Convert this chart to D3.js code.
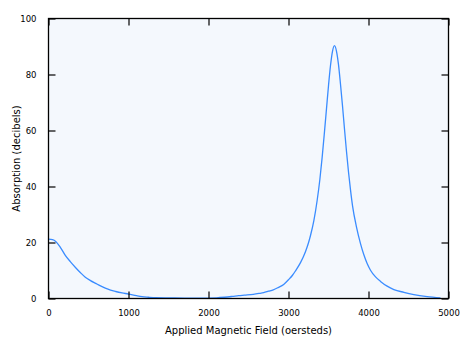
<!DOCTYPE html>
<html>
<head>
<meta charset="utf-8">
<script src="https://cdn.jsdelivr.net/npm/d3@7"></script>
<style>
  html, body { margin: 0; padding: 0; background: #ffffff; }
  svg { display: block; }
  text { font-family: "DejaVu Sans", Verdana, sans-serif; fill: #000; }
</style>
</head>
<body>
<svg id="chart" width="476" height="347"></svg>
<script>
// Applied field (oersteds) and measured absorption (decibels)
const fieldOe = [
  0, 50, 90, 150, 210, 275, 340, 400, 460, 525, 590, 650, 710, 775, 840, 920,
  1000, 1100, 1170, 1250, 1340, 1500, 1700, 1900, 2100, 2200, 2300, 2375, 2450,
  2560, 2630, 2690, 2750, 2810, 2870, 2940, 3000, 3050, 3088, 3150, 3213, 3250,
  3275, 3317, 3358, 3392, 3420, 3450, 3475, 3500, 3525, 3550, 3575, 3600, 3625,
  3650, 3675, 3700, 3725, 3750, 3775, 3800, 3850, 3900, 3942, 3983, 4025, 4088,
  4150, 4233, 4317, 4442, 4567, 4733, 4900
];
const absorptionDb = [
  21.2, 21.0, 20.4, 18.2, 15.4, 13.1, 11.0, 9.2, 7.6, 6.4, 5.4, 4.5, 3.7, 3.0, 2.5, 2.0,
  1.6, 1.0, 0.65, 0.45, 0.28, 0.2, 0.15, 0.15, 0.25, 0.45, 0.75, 1.0, 1.2,
  1.5, 1.8, 2.1, 2.6, 3.1, 3.9, 5.0, 6.7, 8.3, 9.9, 12.8, 16.8, 19.9,
  22.5, 27.8, 35.0, 42.5, 50.2, 59.6, 67.8, 76.0, 83.2, 88.3, 90.3, 88.3, 83.5,
  76.5, 68.8, 60.5, 52.5, 45.2, 38.8, 33.2, 25.5, 19.6, 15.6, 12.5, 10.1, 7.7,
  6.1, 4.4, 3.2, 2.2, 1.4, 0.7, 0.25
];
const xTicks = [0, 1000, 2000, 3000, 4000, 5000];
const yTicks = [0, 20, 40, 60, 80, 100];
const xTitle = "Applied Magnetic Field (oersteds)";
const yTitle = "Absorption (decibels)";

const points = fieldOe.map((h, i) => ({ h, a: absorptionDb[i] }));

const plotLeft = 48.5, plotRight = 448.5, plotTop = 18.5, plotBottom = 298.5;
const svg = d3.select("#chart");

const x = d3.scaleLinear().domain([0, 5000]).range([plotLeft, plotRight]);
const y = d3.scaleLinear().domain([0, 100]).range([plotBottom, plotTop]);

// plot background
svg.append("rect")
  .attr("x", plotLeft).attr("y", plotTop)
  .attr("width", plotRight - plotLeft).attr("height", plotBottom - plotTop)
  .attr("fill", "#f4f8fd");

// absorption curve
const line = d3.line()
  .x(d => x(d.h))
  .y(d => y(d.a))
  .curve(d3.curveMonotoneX);

svg.append("path")
  .datum(points)
  .attr("d", line)
  .attr("fill", "none")
  .attr("stroke", "#3a8cff")
  .attr("stroke-width", 1.3);

// axes with inward ticks on all four sides
const tickLen = 7;
function styleAxis(g) {
  g.select(".domain").remove();
  g.selectAll(".tick line").attr("stroke", "#000").attr("stroke-width", 1.2);
  g.selectAll(".tick text").style("font-size", "8.5px").style("font-family", "DejaVu Sans, sans-serif");
}

svg.append("g")
  .attr("transform", `translate(0,${plotBottom})`)
  .call(d3.axisBottom(x).tickValues(xTicks).tickFormat(d3.format("d"))
    .tickSizeInner(-tickLen).tickSizeOuter(0).tickPadding(11))
  .call(styleAxis);

svg.append("g")
  .attr("transform", `translate(0,${plotTop})`)
  .call(d3.axisTop(x).tickValues(xTicks).tickFormat("")
    .tickSizeInner(-tickLen).tickSizeOuter(0))
  .call(styleAxis);

svg.append("g")
  .attr("transform", `translate(${plotLeft},0)`)
  .call(d3.axisLeft(y).tickValues(yTicks).tickFormat(d3.format("d"))
    .tickSizeInner(-tickLen).tickSizeOuter(0).tickPadding(12))
  .call(styleAxis);

svg.append("g")
  .attr("transform", `translate(${plotRight},0)`)
  .call(d3.axisRight(y).tickValues(yTicks).tickFormat("")
    .tickSizeInner(-tickLen).tickSizeOuter(0))
  .call(styleAxis);

// frame
svg.append("rect")
  .attr("x", plotLeft).attr("y", plotTop)
  .attr("width", plotRight - plotLeft).attr("height", plotBottom - plotTop)
  .attr("fill", "none")
  .attr("stroke", "#000")
  .attr("stroke-width", 1.3);

// axis titles
svg.append("text")
  .attr("x", (plotLeft + plotRight) / 2)
  .attr("y", 334)
  .attr("text-anchor", "middle")
  .style("font-size", "10px")
  .text(xTitle);

svg.append("text")
  .attr("transform", `translate(20,${(plotTop + plotBottom) / 2}) rotate(-90)`)
  .attr("text-anchor", "middle")
  .style("font-size", "10px")
  .text(yTitle);
</script>
</body>
</html>
